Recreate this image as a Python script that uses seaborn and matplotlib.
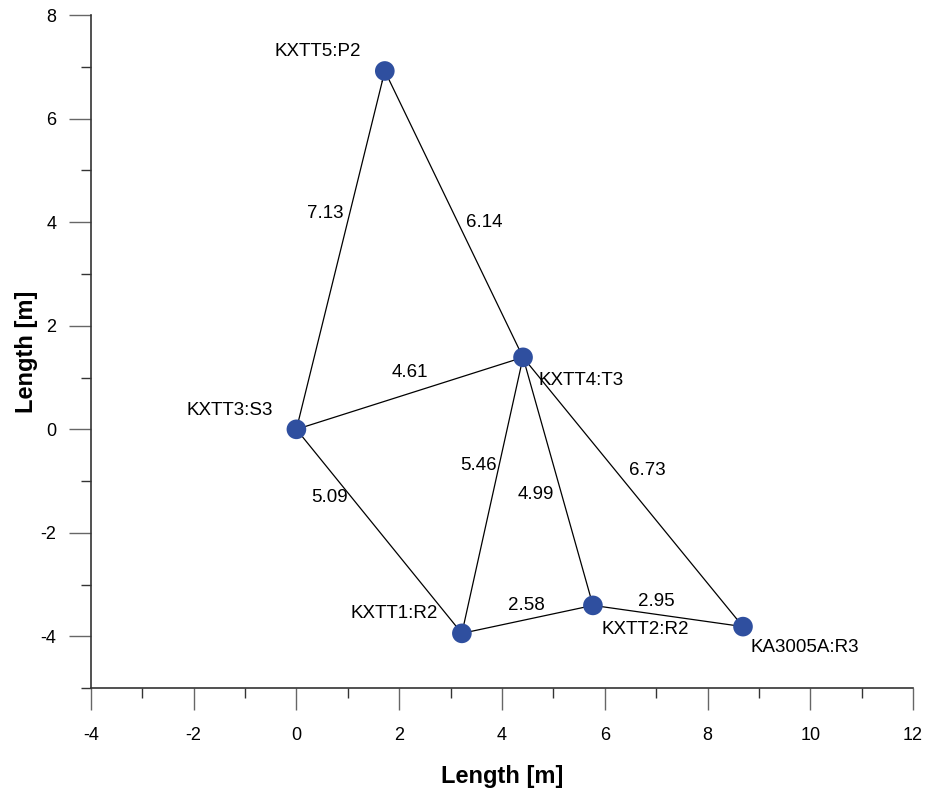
import matplotlib
matplotlib.use("Agg")
import matplotlib.pyplot as plt
import seaborn as sns
import pandas as pd

# ---- data ----
names = ["KXTT5:P2", "KXTT4:T3", "KXTT3:S3", "KXTT1:R2", "KXTT2:R2", "KA3005A:R3"]
xs = [1.72, 4.41, 0.00, 3.22, 5.77, 8.69]
ys = [6.92, 1.39, 0.00, -3.94, -3.40, -3.81]

edge_from = ["KXTT3:S3", "KXTT5:P2", "KXTT3:S3", "KXTT3:S3", "KXTT1:R2", "KXTT4:T3", "KXTT4:T3", "KXTT1:R2", "KXTT2:R2"]
edge_to   = ["KXTT5:P2", "KXTT4:T3", "KXTT4:T3", "KXTT1:R2", "KXTT4:T3", "KXTT2:R2", "KA3005A:R3", "KXTT2:R2", "KA3005A:R3"]
edge_len  = ["7.13", "6.14", "4.61", "5.09", "5.46", "4.99", "6.73", "2.58", "2.95"]

x_ticks = [-4, -2, 0, 2, 4, 6, 8, 10, 12]
y_ticks = [-4, -2, 0, 2, 4, 6, 8]

# layout: label offsets in pixels
node_off = {"KXTT5:P2": (-67, 19), "KXTT4:T3": (58, -23), "KXTT3:S3": (-67, 19),
            "KXTT1:R2": (-68, 20), "KXTT2:R2": (52, -24), "KA3005A:R3": (62, -21)}
edge_off = [(-15, 37), (30, -8), (0, 21), (-50, 34), (-14, 30), (-22, -13), (14, 21), (-1, 14), (-12, 15)]

sns.set_style("ticks")
plt.rcParams['font.family'] = ['Liberation Sans', 'DejaVu Sans']
plt.rcParams['axes.unicode_minus'] = False
plt.rcParams['text.color'] = 'black'
plt.rcParams['axes.labelcolor'] = 'black'

fig = plt.figure(figsize=(9.27, 7.92), dpi=100)
ax = fig.add_axes([0.098, 0.131, 0.887, 0.850])

df = pd.DataFrame({"name": names, "x": xs, "y": ys})
pos = {n: (x, y) for n, x, y in zip(names, xs, ys)}

for (a, b, lab), off in zip(zip(edge_from, edge_to, edge_len), edge_off):
    xa, ya = pos[a]
    xb, yb = pos[b]
    seg = pd.DataFrame({"x": [xa, xb], "y": [ya, yb]})
    sns.lineplot(data=seg, x="x", y="y", ax=ax, color="black", lw=0.9, sort=False,
                 estimator=None, zorder=2)
    ax.annotate("", xy=(xb, yb), xytext=(xa + 0.97 * (xb - xa), ya + 0.97 * (yb - ya)),
                arrowprops=dict(arrowstyle="-|>", color="black", lw=0.8,
                                mutation_scale=7, shrinkA=0, shrinkB=0), zorder=3)
    ax.annotate(lab, xy=((xa + xb) / 2, (ya + yb) / 2), xytext=off,
                textcoords="offset pixels", ha="center", va="center", fontsize=13.5,
                color="black")

sns.scatterplot(data=df, x="x", y="y", ax=ax, s=200, color="#2F4F9F",
                edgecolor="none", zorder=4)

for n, x, y in zip(names, xs, ys):
    ax.annotate(n, xy=(x, y), xytext=node_off[n], textcoords="offset pixels",
                ha="center", va="center", fontsize=13.5, color="black")

ax.set_xlim(-4, 12)
ax.set_ylim(-5, 8)
ax.set_xticks(x_ticks)
ax.set_yticks(y_ticks)
ax.set_xticks([v + 1 for v in x_ticks[:-1]], minor=True)
ax.set_yticks([-5] + [v + 1 for v in y_ticks[:-1]], minor=True)
ax.tick_params(axis="both", which="major", direction="out", length=15.8, width=1,
               color="#666666", labelsize=13, labelcolor="black")
ax.tick_params(axis="x", which="major", pad=12)
ax.tick_params(axis="y", which="major", pad=9)
ax.tick_params(axis="both", which="minor", direction="out", length=7.2, width=1, color="#333333")
for s in ["top", "right"]:
    ax.spines[s].set_visible(False)
for s in ["left", "bottom"]:
    ax.spines[s].set_color("#333333")
    ax.spines[s].set_linewidth(1.2)

ax.set_xlabel("Length [m]", fontsize=17, fontweight="bold", labelpad=15, color="black")
ax.set_ylabel("Length [m]", fontsize=17, fontweight="bold", labelpad=2, color="black")

fig.savefig("out.png", dpi=100)
